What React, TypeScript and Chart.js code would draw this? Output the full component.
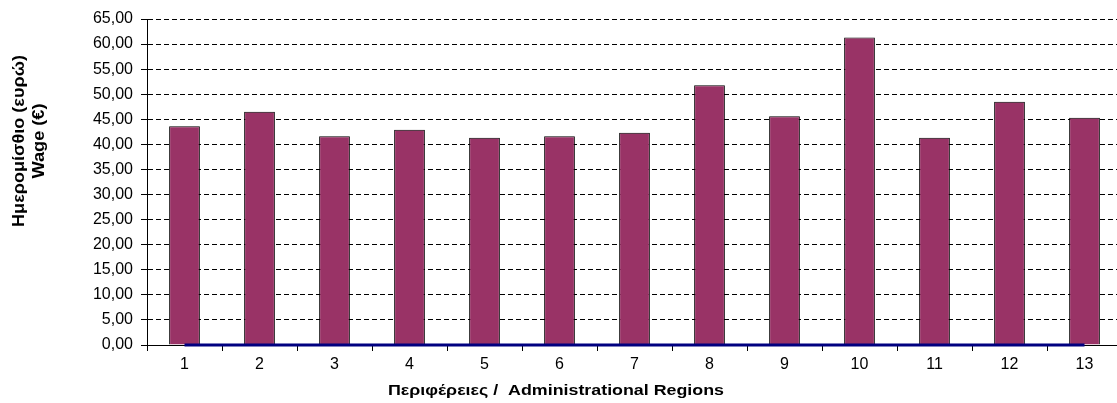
import React, { useEffect, useRef } from "react";
import { Chart, registerables } from "chart.js";

Chart.register(...registerables);

// ---- data ----
const regions = ["1", "2", "3", "4", "5", "6", "7", "8", "9", "10", "11", "12", "13"];
const wages = [43.6, 46.5, 41.6, 42.9, 41.3, 41.6, 42.3, 51.8, 45.6, 61.3, 41.3, 48.5, 45.3];
const baselineSeries = [0, 0, 0, 0, 0, 0, 0, 0, 0, 0, 0, 0, 0];
const yMin = 0;
const yMax = 65;
const yStep = 5;
const xTitle = "Περιφέρειες /  Administrational Regions";
const yTitleLines = ["Ημερομίσθιο (ευρώ)", "Wage (€)"];

const FONT = '"Liberation Sans", Arial, Helvetica, sans-serif';

function drawFitted(
  ctx: CanvasRenderingContext2D,
  text: string,
  cx: number,
  cy: number,
  target: number,
  rot: number
) {
  const w = ctx.measureText(text).width;
  const sx = target / w;
  ctx.save();
  ctx.translate(cx, cy);
  ctx.rotate(rot);
  ctx.scale(sx, 1);
  ctx.textAlign = "center";
  ctx.textBaseline = "middle";
  ctx.fillText(text, 0, 0);
  ctx.restore();
}

const titlePlugin = {
  id: "axisTitlesCustom",
  afterDraw(chart: any) {
    const ctx: CanvasRenderingContext2D = chart.ctx;
    const area = chart.chartArea;
    ctx.save();
    ctx.fillStyle = "#000";
    // x axis title
    ctx.font = `bold 15px ${FONT}`;
    drawFitted(ctx, xTitle, area.left + 409, 391, 336, 0);
    // y axis title (two lines, rotated)
    ctx.font = `bold 16px ${FONT}`;
    drawFitted(ctx, yTitleLines[0], 20, 141, 172, -Math.PI / 2);
    drawFitted(ctx, yTitleLines[1], 40, 141, 75, -Math.PI / 2);
    ctx.restore();
  },
};

export default function App() {
  const ref = useRef<HTMLCanvasElement | null>(null);

  useEffect(() => {
    if (!ref.current) return;
    const chart = new Chart(ref.current, {
      type: "bar",
      data: {
        labels: regions,
        datasets: [
          {
            type: "line",
            data: baselineSeries,
            borderColor: "#000080",
            borderWidth: 3,
            pointRadius: 0,
            fill: false,
            order: 0,
            clip: 6,
          } as any,
          {
            type: "bar",
            data: wages,
            backgroundColor: "#993366",
            borderColor: "#000000",
            borderWidth: 1,
            categoryPercentage: 1,
            barPercentage: 0.41,
            order: 1,
          },
        ],
      },
      options: {
        animation: false,
        responsive: false,
        maintainAspectRatio: false,
        devicePixelRatio: 1,
        layout: { padding: { top: 19, left: 0, right: 0, bottom: 0 } },
        plugins: {
          legend: { display: false },
          tooltip: { enabled: false },
          title: { display: false },
        },
        scales: {
          x: {
            type: "category",
            offset: true,
            grid: {
              display: true,
              drawOnChartArea: false,
              drawTicks: true,
              tickLength: 6,
              color: "#000",
              tickColor: "#000",
              offset: true,
            },
            border: { display: true, color: "#000", width: 1 },
            ticks: {
              color: "#000",
              font: { family: FONT, size: 16 },
              padding: 4,
              maxRotation: 0,
              autoSkip: false,
            },
            afterFit: (s: any) => {
              s.height = 403 - 345;
            },
          },
          y: {
            min: yMin,
            max: yMax,
            ticks: {
              stepSize: yStep,
              color: "#000",
              font: { family: FONT, size: 16 },
              padding: 8,
              autoSkip: false,
              callback: (v: any) => Number(v).toFixed(2).replace(".", ","),
            },
            grid: {
              color: "#000",
              lineWidth: 1,
              drawTicks: true,
              tickLength: 6,
              tickColor: "#000",
              tickBorderDash: [],
            },
            border: { display: true, color: "#000", width: 1, dash: [5, 3] },
            afterFit: (s: any) => {
              s.width = 147;
            },
          },
        },
      } as any,
      plugins: [titlePlugin],
    });
    return () => chart.destroy();
  }, []);

  return (
    <div
      style={{
        position: "fixed",
        left: 0,
        top: 0,
        width: 1117,
        height: 403,
        overflow: "hidden",
        background: "#fff",
      }}
    >
      <canvas ref={ref} width={1122} height={403} style={{ display: "block", width: 1122, height: 403 }} />
    </div>
  );
}
